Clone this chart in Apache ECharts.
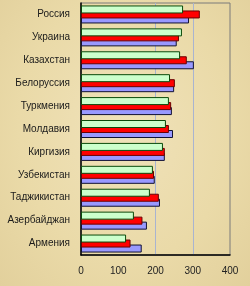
<!DOCTYPE html>
<html><head><meta charset="utf-8">
<script src="https://cdn.jsdelivr.net/npm/echarts@6/dist/echarts.min.js"></script>
<style>html,body{margin:0;padding:0;}#c{width:250px;height:286px;background:radial-gradient(ellipse at 50% 45%, #f0e2ba 0%, #eadaa8 60%, #e2d09c 100%);}</style>
</head><body><div id="c"></div>
<script>
var categories = ['Россия','Украина','Казахстан','Белоруссия','Туркмения','Молдавия','Киргизия','Узбекистан','Таджикистан','Азербайджан','Армения'];
var greenValues = [274, 271, 266, 239, 236, 228, 220, 193, 185, 142, 121];
var redValues   = [319, 263, 284, 252, 242, 236, 225, 196, 209, 165, 133];
var blueValues  = [290, 257, 303, 250, 244, 247, 225, 198, 212, 177, 163];
var xTicks = [0, 100, 200, 300, 400];

var chart = echarts.init(document.getElementById('c'), null, {renderer:'canvas'});
var font = 'Liberation Sans, Arial, sans-serif';
function ser(name, data, fill, border, z){
  return {name:name, type:'bar', data:data, barWidth:8, barGap:'-37.5%', z:z,
    itemStyle:{color:fill, borderColor:border, borderWidth:1}, silent:true, animation:false};
}
chart.setOption({
  backgroundColor:'transparent',
  animation:false,
  grid:{left:81, right:20, top:3, bottom:31, show:true, borderColor:'#7a7a7a', borderWidth:1, backgroundColor:'transparent'},
  xAxis:{type:'value', min:xTicks[0], max:xTicks[xTicks.length-1], interval:100,
    axisLine:{show:true, lineStyle:{color:'#000', width:1.5}},
    axisTick:{show:false},
    axisLabel:{margin:11, color:'#222', fontSize:10, fontFamily:font},
    splitLine:{show:true, lineStyle:{color:['transparent','transparent','#a9b4d0','#a9b4d0','transparent'], width:1}}},
  yAxis:{type:'category', data:categories, inverse:true,
    axisLine:{show:true, lineStyle:{color:'#000', width:1.5}},
    axisTick:{show:false},
    axisLabel:{margin:11, color:'#1a1a1a', fontSize:10, fontFamily:font}},
  series:[
    ser('c', greenValues, '#ccffcc', '#0a4a0a', 5),
    ser('b', redValues, '#ff0000', '#6a0000', 4),
    ser('a', blueValues, '#9999ff', '#111133', 3)
  ]
});
</script></body></html>
